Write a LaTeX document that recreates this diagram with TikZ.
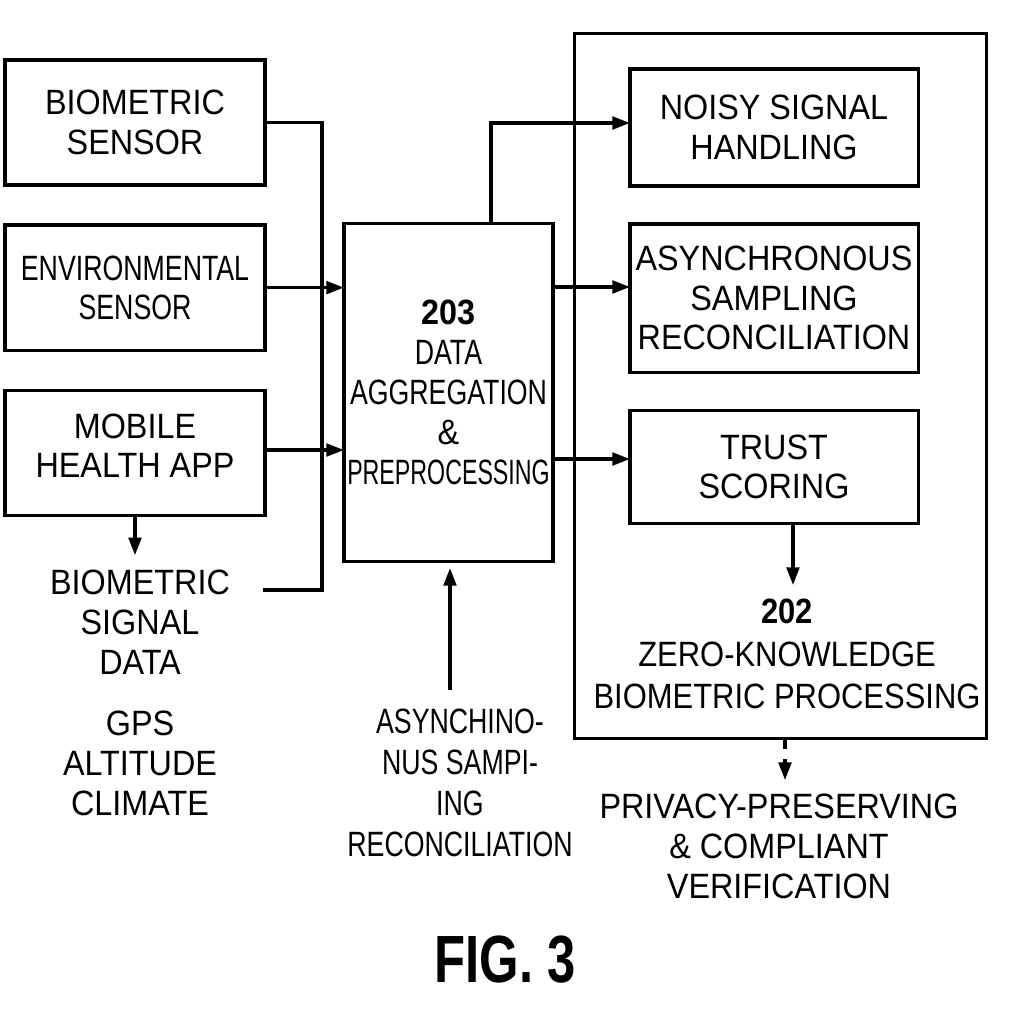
\documentclass[tikz,border=0pt]{standalone}
\usepackage{fontspec}
\setmainfont{Liberation Sans}[FakeStretch=0.92]
\newfontfamily\narrowfont{Liberation Sans}[FakeStretch=0.76]
\newfontfamily\tightfont{Liberation Sans}[FakeStretch=0.66]
\newfontfamily\semifont{Liberation Sans}[FakeStretch=0.88]
\usetikzlibrary{positioning,arrows.meta}

\tikzset{
  blk/.style={draw, line width=0.9pt, align=center, inner sep=0pt, outer sep=0pt,
    minimum width=2.6cm, minimum height=1.25cm, font=\fontsize{10}{11.2}\selectfont},
  txt/.style={align=center, inner sep=0pt, font=\fontsize{10}{11.4}\selectfont},
  arr/.style={line width=0.9pt, -{Triangle[length=5pt,width=3.6pt]}},
  wire/.style={line width=0.9pt},
}

\begin{document}
\begin{tikzpicture}[x=0.01cm, y=-0.01cm]
                \useasboundingbox (0,0) rectangle (1024,1024);
                
                % inputs
                \node[blk]                        (bio) at (135,122.5) {BIOMETRIC\\SENSOR};
                \node[blk, below=0.4cm of bio]    (env) {{\narrowfont ENVIRONMENTAL}\\{\narrowfont SENSOR}};
                \node[blk, below=0.4cm of env, text depth=0.14cm] (mob) {MOBILE\\HEALTH APP};
                \node[txt]                        (sig) at (140,622) {BIOMETRIC\\SIGNAL\\DATA};
                \node[txt]                        (gps) at (140,763) {GPS\\ALTITUDE\\CLIMATE};
                
                % aggregation
                \node[blk, minimum width=2.09cm, minimum height=3.37cm, font=\fontsize{10}{11.4}\selectfont]
                      (agg) at (448.5,392.5) {\textbf{203}\\{\narrowfont DATA}\\{\narrowfont AGGREGATION}\\\&\\{\tightfont PREPROCESSING}};
                \node[txt, font=\fontsize{10}{11.7}\selectfont\narrowfont]
                      (asy) at (460,783) {ASYNCHINO-\\NUS SAMPI-\\ING\\RECONCILIATION};
                
                % zero-knowledge block
                \node[draw, line width=0.9pt, minimum width=4.11cm, minimum height=7.04cm, inner sep=0pt, outer sep=0pt]
                      (zk) at (780.5,386) {};
                \node[blk, minimum width=2.88cm, minimum height=1.17cm] (noisy) at (774,127.5) {NOISY SIGNAL\\HANDLING};
                \node[blk, minimum width=2.88cm, minimum height=1.48cm, below=0.38cm of noisy] (async) {ASYNCHRONOUS\\SAMPLING\\RECONCILIATION};
                \node[blk, minimum width=2.88cm, minimum height=1.13cm, below=0.38cm of async] (trust) {TRUST\\SCORING};
                \node[txt, font=\fontsize{10}{12}\selectfont\semifont] (zkl) at (787,654) {\textbf{202}\\ZERO-KNOWLEDGE\\BIOMETRIC PROCESSING};
                \node[txt] (prv) at (779,846) {PRIVACY-PRESERVING\\\& COMPLIANT\\VERIFICATION};
                
                \node[txt, font=\fontsize{19}{22}\selectfont\narrowfont\bfseries] (fig) at (505,960) {FIG. 3};
                
                \coordinate (bus)   at (322,590);
                \coordinate (sigend) at (263,590);
                \coordinate (asyfoot) at (450,690);
                \coordinate (zkin)  at (793,585);
                \coordinate (vtip)  at (785,780);
                
                % edges
                \draw[wire] (bio.east) -| (bus) -- (sigend);
                \draw[arr] (env.east) -- (agg.west |- env.east);
                \draw[arr] (mob.east |- 0,450) -- (agg.west |- 0,450);
                \draw[arr] (mob.south) -- ++(0,40);
                \draw[arr] (asyfoot) -- ([yshift=-2pt]agg.south -| asyfoot);
                \draw[arr] (agg.north -| 491,0) |- (noisy.west |- 0,123);
                \draw[arr] (agg.east |- 0,287) -- (async.west |- 0,287);
                \draw[arr] (agg.east |- 0,459) -- (trust.west |- 0,459);
                \draw[arr] (trust.south -| zkin) -- (zkin);
                \draw[arr, dash pattern=on 3pt off 3pt] (zk.south -| vtip) -- (vtip);
                
\end{tikzpicture}
\end{document}
